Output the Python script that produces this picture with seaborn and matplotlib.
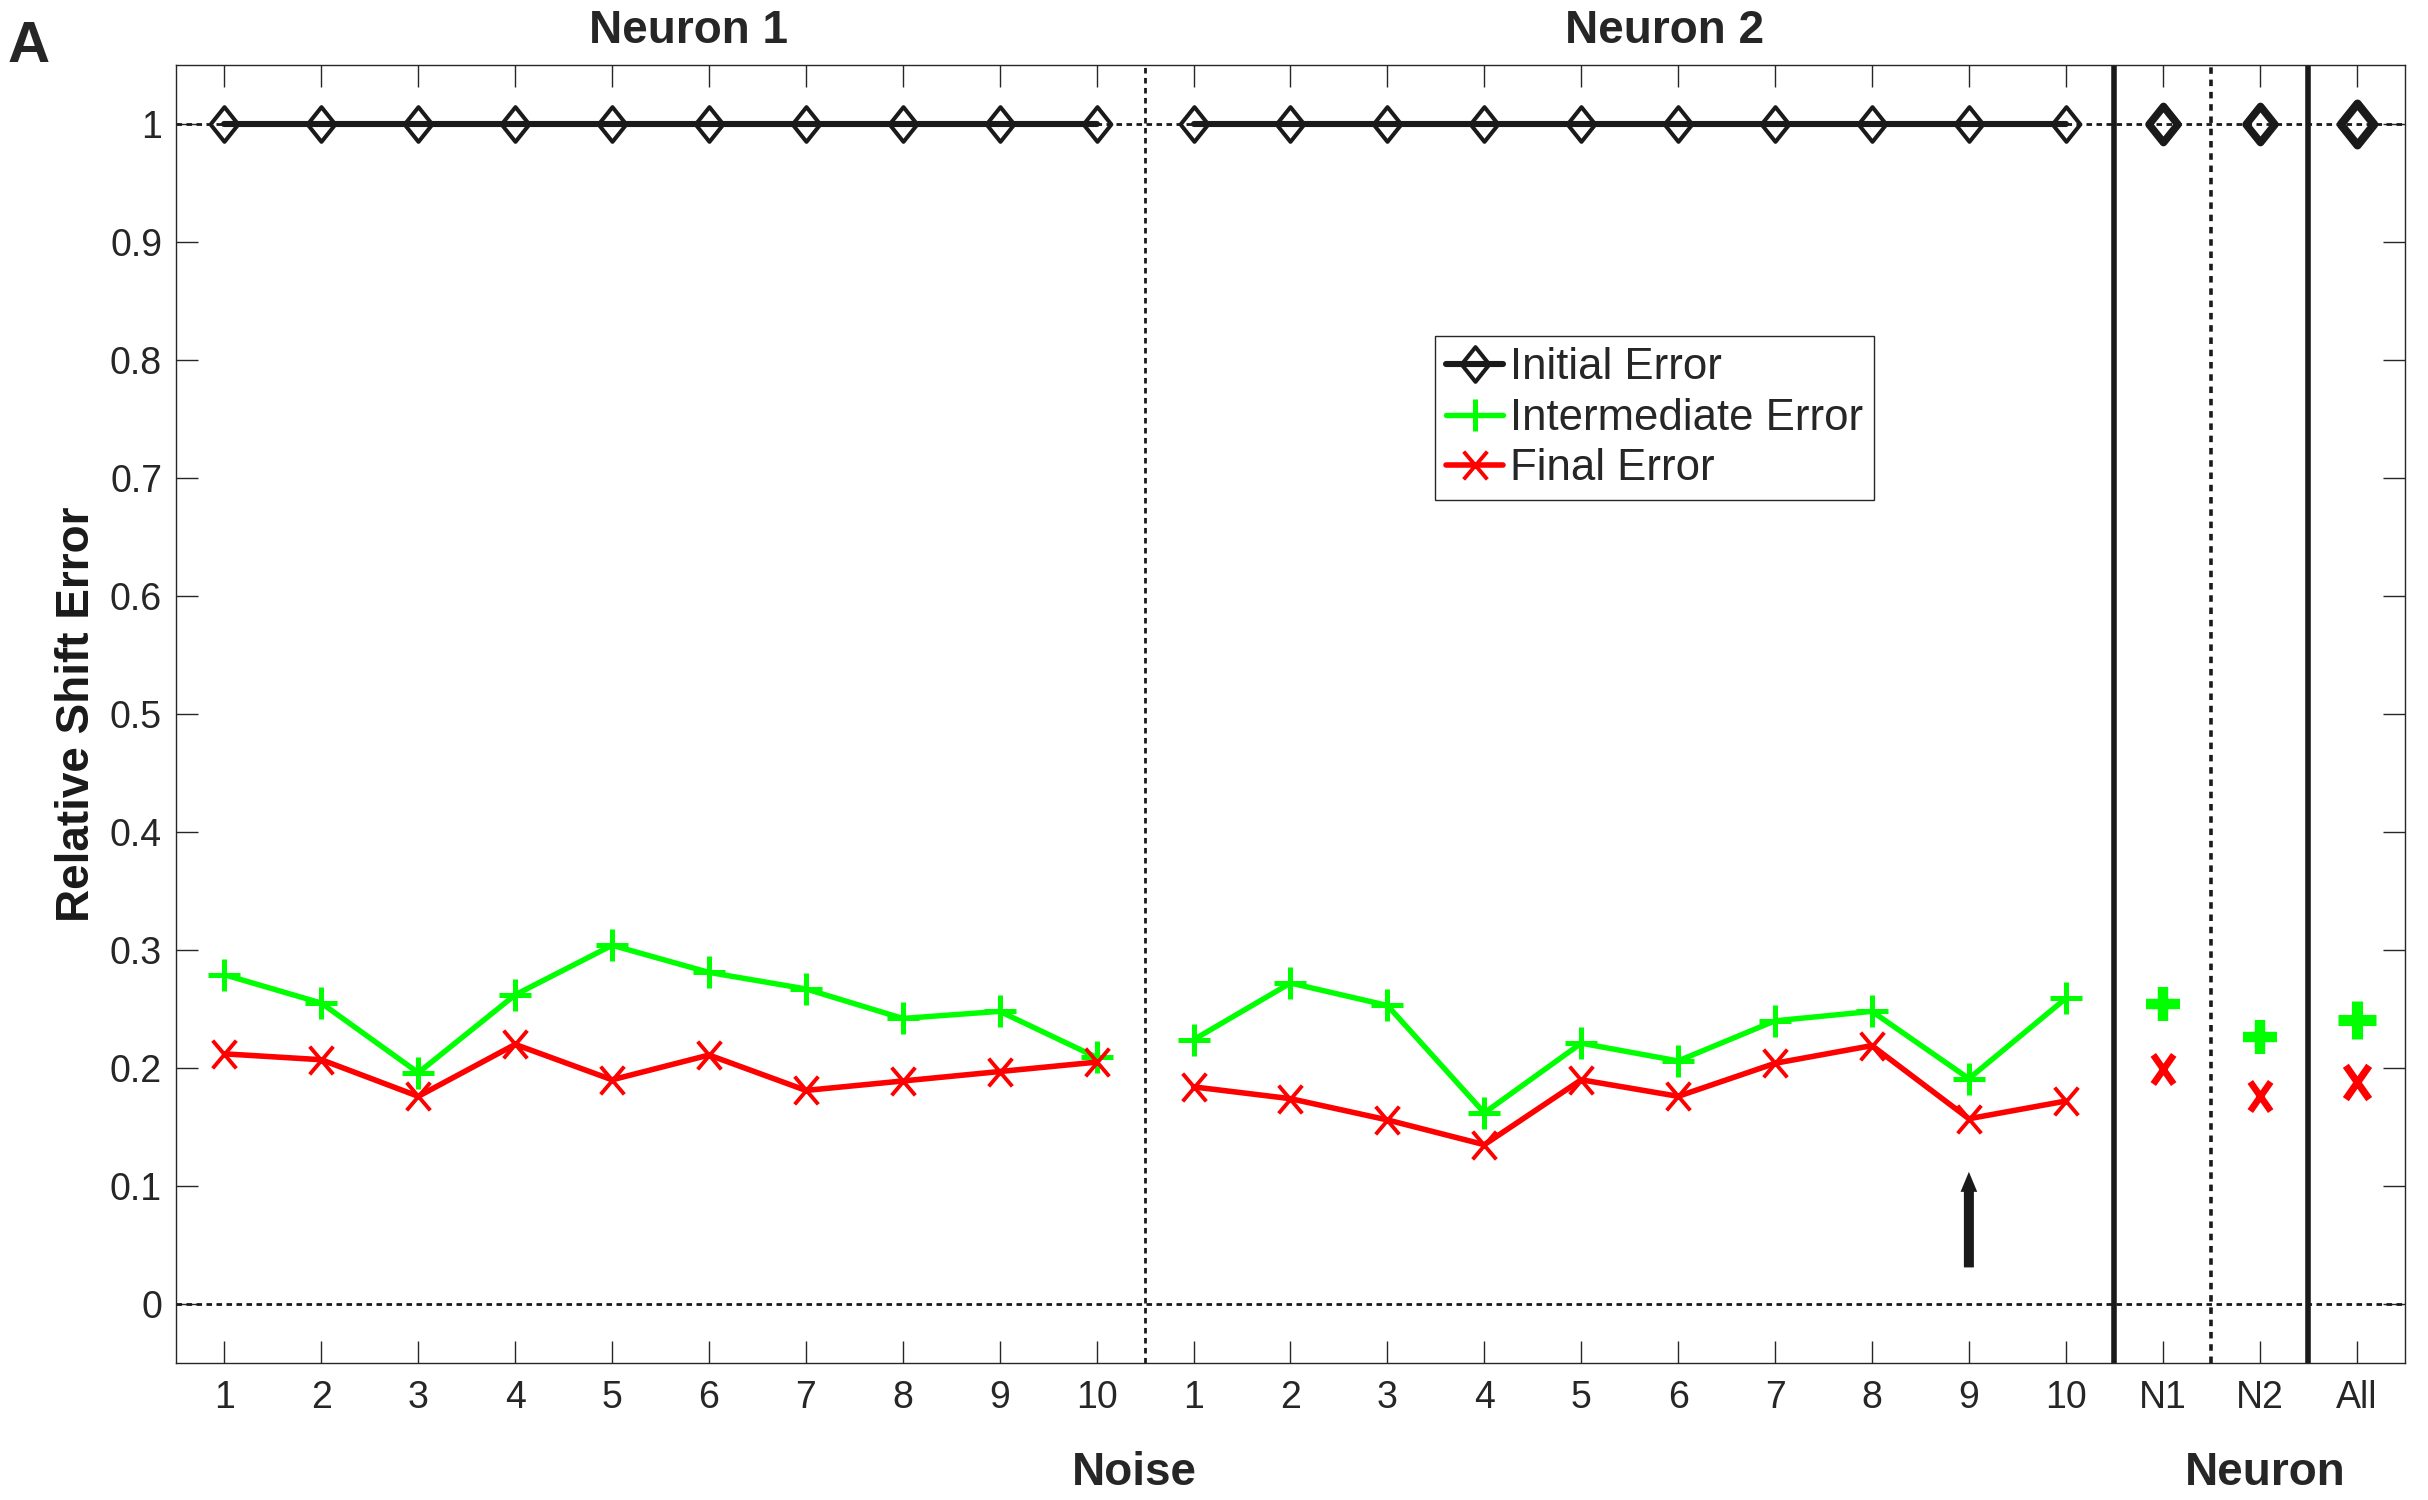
import matplotlib
matplotlib.use("Agg")
import matplotlib.pyplot as plt
from matplotlib.path import Path
from matplotlib.transforms import blended_transform_factory
import seaborn as sns
import numpy as np
import pandas as pd

# values
tick_labels = [str(i) for i in range(1, 11)] * 2 + ["N1", "N2", "All"]

neuron1_initial = [1.0, 1.0, 1.0, 1.0, 1.0, 1.0, 1.0, 1.0, 1.0, 1.0]
neuron1_intermediate = [0.279, 0.255, 0.196, 0.262, 0.304, 0.281, 0.267, 0.242, 0.248, 0.209]
neuron1_final = [0.212, 0.207, 0.176, 0.220, 0.190, 0.211, 0.181, 0.189, 0.197, 0.205]

neuron2_initial = [1.0, 1.0, 1.0, 1.0, 1.0, 1.0, 1.0, 1.0, 1.0, 1.0]
neuron2_intermediate = [0.224, 0.272, 0.253, 0.162, 0.221, 0.206, 0.240, 0.248, 0.191, 0.259]
neuron2_final = [0.184, 0.174, 0.156, 0.135, 0.190, 0.176, 0.204, 0.219, 0.157, 0.172]

summary_initial = [1.0, 1.0, 1.0]
summary_intermediate = [0.254, 0.226, 0.241]
summary_final = [0.199, 0.176, 0.188]

arrow_x = 19
arrow_from, arrow_to = 0.031, 0.112

sns.set_theme(style="ticks")
plt.rcParams['font.family'] = ['Liberation Sans', 'DejaVu Sans']

GREEN = "#00ff00"
RED = "#ff0000"
DARK = "#262626"

# MATLAB-like markers, a bit taller than wide as in the figure
diamond = Path([(0, 1), (0.8, 0), (0, -1), (-0.8, 0), (0, 0)],
               [Path.MOVETO, Path.LINETO, Path.LINETO, Path.LINETO, Path.CLOSEPOLY])
cross = Path([(-0.85, -1), (0.85, 1), (-0.85, 1), (0.85, -1)],
             [Path.MOVETO, Path.LINETO, Path.MOVETO, Path.LINETO])
cross_tall = Path([(-0.7, -1), (0.7, 1), (-0.7, 1), (0.7, -1)],
                  [Path.MOVETO, Path.LINETO, Path.MOVETO, Path.LINETO])

pos_n1 = np.arange(1, 11)
pos_n2 = np.arange(11, 21)
pos_sum = np.arange(21, 24)

fig = plt.figure(figsize=(24.28, 15), dpi=100)
ax = fig.add_axes([176 / 2428, 1 - 1363 / 1500, (2405 - 176) / 2428, 1298 / 1500])

# reference lines
ax.axhline(0, color="k", lw=2, ls=(0, (2, 1.6)), zorder=1)
ax.axhline(1, color="k", lw=2, ls=(0, (2, 1.6)), zorder=1)
ax.axvline(10.5, color="k", lw=2, ls=(0, (2, 1.6)), zorder=1)
ax.axvline(21.5, color="k", lw=2.6, ls=(0, (1.8, 1.6)), zorder=1)
ax.axvline(20.5, color="k", lw=4, zorder=1)
ax.axvline(22.5, color="k", lw=4, zorder=1)

for i, (pos, ini, mid, fin) in enumerate([
        (pos_n1, neuron1_initial, neuron1_intermediate, neuron1_final),
        (pos_n2, neuron2_initial, neuron2_intermediate, neuron2_final)]):
    df = pd.DataFrame({"x": pos, "ini": ini, "mid": mid, "fin": fin})
    sns.lineplot(data=df, x="x", y="ini", ax=ax, color="k", lw=4.4, marker=diamond,
                 ms=25, mew=2.9, mfc="none", mec="k", sort=False, estimator=None,
                 label="Initial Error" if i == 0 else None, zorder=3)
    sns.lineplot(data=df, x="x", y="mid", ax=ax, color=GREEN, lw=3.9, marker="+",
                 ms=22.5, mew=3.6, mec=GREEN, sort=False, estimator=None,
                 label="Intermediate Error" if i == 0 else None, zorder=4)
    sns.lineplot(data=df, x="x", y="fin", ax=ax, color=RED, lw=4.0, marker=cross,
                 ms=20, mew=2.8, mec=RED, sort=False, estimator=None,
                 label="Final Error" if i == 0 else None, zorder=5)

# summary points (N1, N2, All)
big = [(26, 5.5, 25, 7.5, 21, 4.8), (26, 5.5, 25, 7.5, 21, 4.8), (30, 6.0, 28, 8.0, 24, 5.2)]
for j, (dms, dmew, pms, pmew, xms, xmew) in enumerate(big):
    sns.lineplot(x=[pos_sum[j]], y=[summary_initial[j]], ax=ax, color="k", ls="none",
                 marker=diamond, ms=dms, mew=dmew, mfc="none", mec="k", zorder=3)
    sns.lineplot(x=[pos_sum[j]], y=[summary_intermediate[j]], ax=ax, color=GREEN, ls="none",
                 marker="+", ms=pms, mew=pmew, mec=GREEN, zorder=4)
    sns.lineplot(x=[pos_sum[j]], y=[summary_final[j]], ax=ax, color=RED, ls="none",
                 marker=cross_tall, ms=xms, mew=xmew, mec=RED, zorder=5)

# arrow marking the example
ax.annotate("", xy=(arrow_x, arrow_to), xytext=(arrow_x, arrow_from),
            arrowprops=dict(arrowstyle="simple,head_length=0.72,head_width=0.6,tail_width=0.36",
                            mutation_scale=20, color="k", lw=0, shrinkA=0, shrinkB=0))

ax.set_xlim(0.5, 23.5)
ax.set_ylim(-0.05, 1.05)
ax.set_xticks(np.arange(1, 24))
ax.set_xticklabels(tick_labels)
ax.set_yticks(np.round(np.arange(0, 1.01, 0.1), 1))
ax.set_yticklabels(["0"] + ["%.1f" % v for v in np.arange(0.1, 0.95, 0.1)] + ["1"])
ax.tick_params(axis="both", direction="in", length=16, width=1, color=DARK,
               labelsize=27, labelcolor=DARK, top=True, right=True)
ax.tick_params(axis="x", pad=12)
ax.tick_params(axis="y", pad=10)
for s in ax.spines.values():
    s.set_color(DARK)
    s.set_linewidth(1)
ax.set_xlabel("")
ax.set_ylabel("Relative Shift Error", fontsize=33, fontweight="bold", color="k")
ax.yaxis.set_label_coords(-0.0345, 0.5)

trans = blended_transform_factory(ax.transData, fig.transFigure)
ax.text(5.79, 1 - 43 / 1500, "Neuron 1", transform=trans, ha="center", va="baseline",
        fontsize=33, fontweight="bold")
ax.text(15.86, 1 - 43 / 1500, "Neuron 2", transform=trans, ha="center", va="baseline",
        fontsize=33, fontweight="bold")
ax.text(10.39, 0.01, "Noise", transform=trans, ha="center", va="baseline",
        fontsize=33, fontweight="bold")
ax.text(22.06, 0.01, "Neuron", transform=trans, ha="center", va="baseline",
        fontsize=33, fontweight="bold")
fig.text(0.0033, 1 - 62 / 1500, "A", ha="left", va="baseline", fontsize=42, fontweight="bold")

handles, labels = ax.get_legend_handles_labels()
leg = ax.legend(handles, labels, loc="upper left", bbox_to_anchor=(0.565, 0.791),
                borderaxespad=0, fontsize=31.5, frameon=True, fancybox=False,
                edgecolor=DARK, framealpha=1, handlelength=1.3, handletextpad=0.15,
                borderpad=0.25, labelspacing=0.22)
leg.get_frame().set_linewidth(1)

plt.savefig("out.png", dpi=100)
